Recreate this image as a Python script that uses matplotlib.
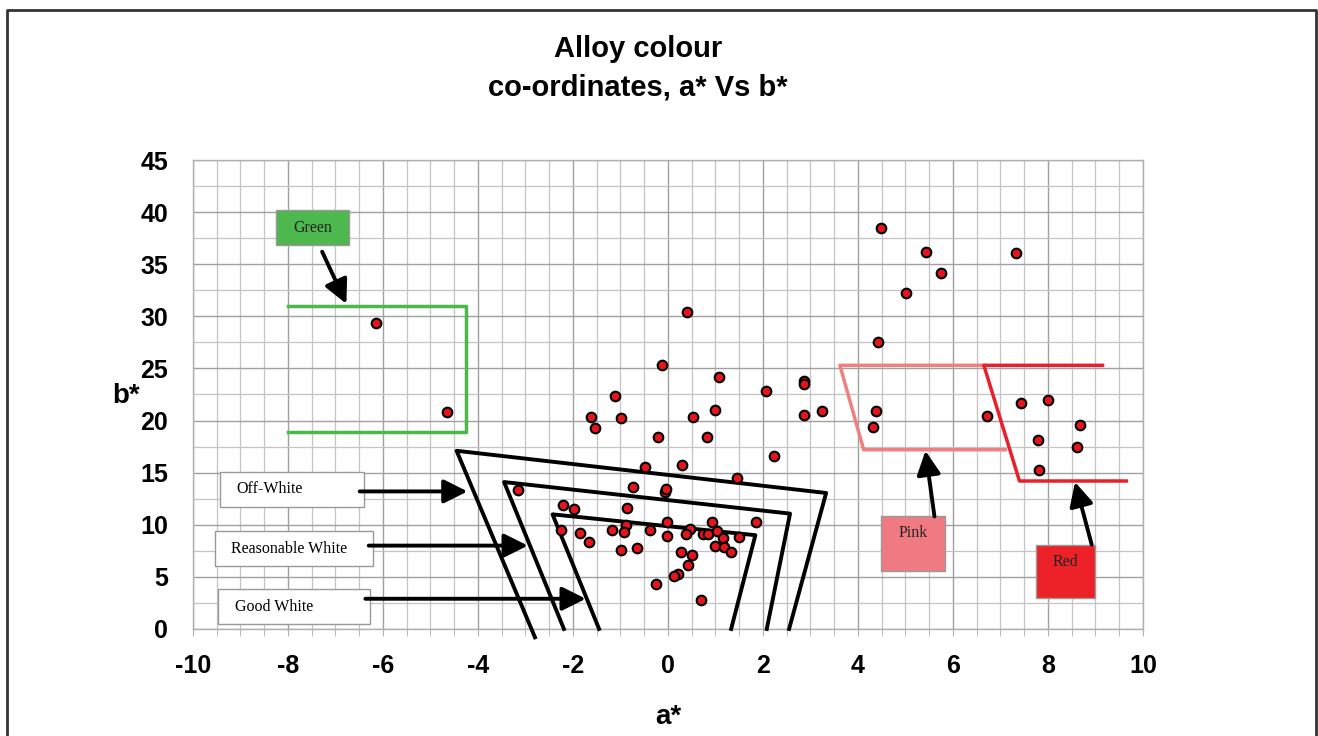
import numpy as np
import matplotlib.pyplot as plt
from matplotlib.patches import Rectangle

# measured colour co-ordinates
a_star = [-6.14, -4.66, 0.40, 4.49, 5.44, 5.74, 7.32, 5.02, 4.42, 4.39, 4.32,
          6.72, 7.44, 8.00, 8.67, 7.79, 8.61, 7.81,
          -0.12, 1.07, -1.12, 2.07, 2.86, 2.86, -1.63, -0.99, 0.53, 0.98, 2.86,
          3.24, -1.53, -0.20, 0.82, 2.23, -0.49, 0.30, 1.45, -3.15, -0.74,
          -0.07, -0.05, -2.21, -1.98, -0.87, -0.02, 0.93, 1.86, -0.89, -2.25,
          -1.85, -1.17, -0.92, -0.38, 0.46, 0.37, -0.02, 0.74, 0.84, 1.03,
          1.15, 1.49, -1.66, 0.98, 1.18, 1.32, -0.99, -0.65, 0.27, 0.51, 0.43,
          0.22, 0.13, -0.26, 0.70]
b_star = [29.4, 20.8, 30.4, 38.5, 36.2, 34.2, 36.1, 32.2, 27.5, 20.9, 19.4,
          20.4, 21.7, 22.0, 19.6, 18.1, 17.5, 15.3,
          25.3, 24.2, 22.4, 22.8, 23.8, 23.5, 20.3, 20.2, 20.3, 21.0, 20.5,
          20.9, 19.3, 18.4, 18.4, 16.6, 15.5, 15.7, 14.5, 13.3, 13.6,
          13.1, 13.4, 11.9, 11.5, 11.6, 10.3, 10.3, 10.3, 10.0, 9.5,
          9.2, 9.5, 9.3, 9.5, 9.6, 9.1, 8.9, 9.1, 9.1, 9.4,
          8.7, 8.8, 8.3, 8.0, 7.9, 7.4, 7.6, 7.8, 7.4, 7.1, 6.1,
          5.3, 5.1, 4.3, 2.8]

# region outlines (a*, b*)
green_a = [-8.0, -4.25, -4.25, -8.0]
green_b = [31.0, 31.0, 18.9, 18.9]
pink_a = [7.1, 4.12, 3.62, 6.65]
pink_b = [17.2, 17.2, 25.3, 25.3]
red_a = [9.15, 6.65, 7.4, 9.65]
red_b = [25.3, 25.3, 14.2, 14.2]
offwhite_a = [-2.8, -4.45, 3.33, 2.55]
offwhite_b = [-0.8, 17.1, 13.05, 0.0]
reasonable_a = [-2.19, -3.45, 2.57, 2.08]
reasonable_b = [0.0, 14.1, 11.07, 0.0]
good_a = [-1.45, -2.43, 1.84, 1.33]
good_b = [0.0, 11.0, 9.0, 0.0]

plt.rcParams['font.family'] = ['Liberation Sans', 'DejaVu Sans']
plt.rcParams['axes.unicode_minus'] = False

fig = plt.figure(figsize=(13.18, 7.36), dpi=100)
ax = fig.add_axes([0.1464, 0.1454, 0.7208, 0.6372])

# page frame
fig.add_artist(plt.Line2D([0.0055, 0.0055, 0.9985, 0.9985],
                          [0.0, 0.9865, 0.9865, 0.0],
                          transform=fig.transFigure, color='#333333', lw=2))

ax.set_xlim(-10, 10)
ax.set_ylim(0, 45)
ax.set_xticks(np.arange(-10, 11, 2))
ax.set_xticks(np.arange(-10, 10.01, 0.5), minor=True)
ax.set_yticks(np.arange(0, 46, 5))
ax.set_yticks(np.arange(0, 45.1, 2.5), minor=True)
ax.grid(which='major', color='#a0a0a0', lw=1.0)
ax.grid(which='minor', color='#c4c4c4', lw=0.9)
ax.set_axisbelow(True)
for s in ax.spines.values():
    s.set_color('#b0b0b0')
    s.set_linewidth(1)
ax.tick_params(axis='x', which='both', direction='out', length=5,
               color='#b0b0b0', pad=13, labelsize=18)
ax.tick_params(axis='y', which='both', length=0, pad=18, labelsize=18)
for lab in ax.get_xticklabels() + ax.get_yticklabels():
    lab.set_fontweight('bold')

ax.set_xlabel('a*', fontsize=20, fontweight='bold', labelpad=19)
ax.set_ylabel('b*', fontsize=20, fontweight='bold', rotation=0,
              ha='center', va='center')
ax.yaxis.set_label_coords(-0.07, 0.497)
fig.text(0.484, 0.907, 'Alloy colour\nco-ordinates, a* Vs b*', ha='center',
         va='center', fontsize=21, fontweight='bold', linespacing=1.5)

# region outlines
ax.plot(green_a, green_b, color='#4cb84c', lw=2.5)
ax.plot(pink_a, pink_b, color='#f08080', lw=2.5)
ax.plot(red_a, red_b, color='#e8202a', lw=2.5)
for xs, ys in [(offwhite_a, offwhite_b), (reasonable_a, reasonable_b),
               (good_a, good_b)]:
    ax.plot(xs, ys, color='black', lw=2.8, clip_on=False, zorder=3)

ax.scatter(a_star, b_star, s=48, c='#e8141c', edgecolors='black',
           linewidths=1.5, zorder=4)

serif = ['Liberation Serif', 'DejaVu Serif']
arrow = dict(arrowstyle='-|>', lw=2.8, color='black', mutation_scale=36,
             shrinkA=0, shrinkB=0)

# white category labels
white_boxes = [('Off-White', -9.43, 11.7, -6.39, 15.1, 13.2, -4.22),
               ('Reasonable White', -9.54, 6.0, -6.2, 9.4, 8.0, -2.95),
               ('Good White', -9.47, 0.5, -6.27, 3.8, 2.9, -1.73)]
for name, x0, y0, x1, y1, ya, xa in white_boxes:
    ax.add_patch(Rectangle((x0, y0), x1 - x0, y1 - y0, facecolor='white',
                           edgecolor='#999999', lw=1, zorder=5))
    ax.text(x0 + 0.35, (y0 + y1) / 2, name, family=serif, fontsize=11.5,
            va='center', ha='left', zorder=6)
    ax.annotate('', xy=(xa, ya), xytext=(x1 - 0.1, ya), arrowprops=arrow,
                zorder=6)

# coloured category labels
colour_boxes = [('Green', -8.25, 36.8, -6.71, 40.2, 38.5, '#4db84d',
                 (-7.28, 36.2), (-6.77, 31.2)),
                ('Pink', 4.49, 5.6, 5.84, 10.8, 9.2, '#f07a82',
                 (5.61, 10.8), (5.42, 17.1)),
                ('Red', 7.74, 3.0, 8.99, 8.1, 6.4, '#ec2228',
                 (8.92, 8.1), (8.57, 14.1))]
for name, x0, y0, x1, y1, yt, fc, start, end in colour_boxes:
    ax.add_patch(Rectangle((x0, y0), x1 - x0, y1 - y0, facecolor=fc,
                           edgecolor='#999999', lw=1, zorder=5))
    ax.text((x0 + x1) / 2, yt, name, family=serif, fontsize=11.5,
            va='center', ha='center', color='#222222', zorder=6)
    ax.annotate('', xy=end, xytext=start, arrowprops=arrow, zorder=6)

fig.savefig('out.png', dpi=100)
